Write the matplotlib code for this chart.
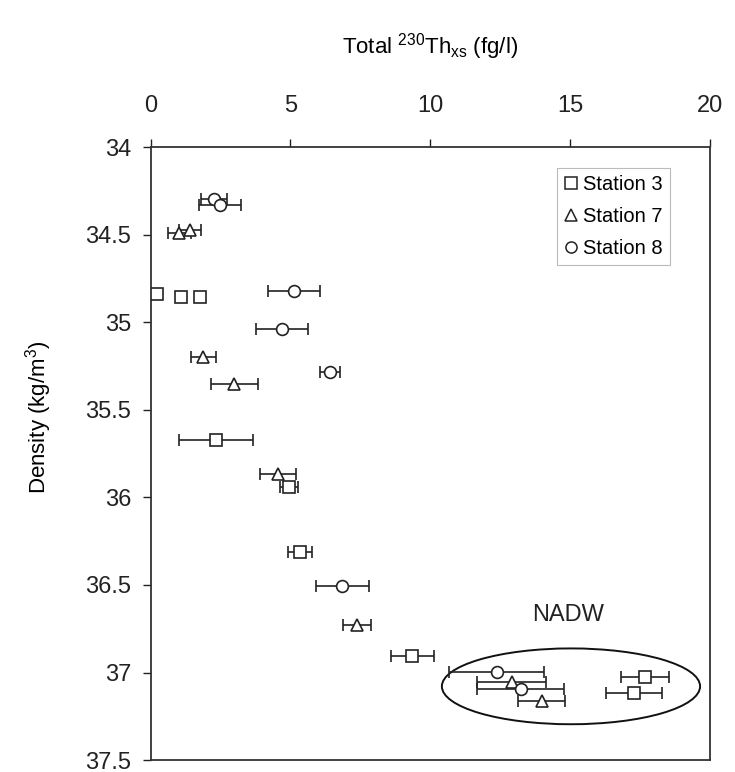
import matplotlib
matplotlib.use("Agg")
import matplotlib.pyplot as plt
from matplotlib.patches import Ellipse
from matplotlib.lines import Line2D

plt.rcParams["font.family"] = ["Liberation Sans", "DejaVu Sans"]
plt.rcParams["mathtext.fontset"] = "custom"
plt.rcParams["mathtext.rm"] = "Liberation Sans"

# Station 3 (squares)
st3_x = [0.22, 1.08, 1.77, 2.34, 4.95, 5.34, 9.36, 17.68, 17.28]
st3_y = [34.84, 34.857, 34.857, 35.672, 35.939, 36.313, 36.903, 37.024, 37.115]
st3_err = [0.0, 0.0, 0.15, 1.31, 0.33, 0.43, 0.77, 0.85, 0.99]

# Station 7 (triangles)
st7_x = [1.03, 1.41, 1.89, 3.0, 4.55, 7.39, 12.91, 13.98]
st7_y = [34.491, 34.472, 35.196, 35.352, 35.868, 36.729, 37.053, 37.161]
st7_err = [0.42, 0.38, 0.46, 0.83, 0.64, 0.5, 1.23, 0.83]

# Station 8 (circles)
st8_x = [2.27, 2.48, 5.14, 4.71, 6.42, 6.86, 12.38, 13.23]
st8_y = [34.297, 34.33, 34.819, 35.04, 35.282, 36.504, 36.996, 37.096]
st8_err = [0.45, 0.76, 0.93, 0.93, 0.35, 0.96, 1.7, 1.55]

fig = plt.figure(figsize=(7.35, 7.72), dpi=100)
ax = fig.add_axes([0.2048, 0.0155, 0.7612, 0.7937])

series = [
    (st3_x, st3_y, st3_err, "s", "Station 3"),
    (st7_x, st7_y, st7_err, "^", "Station 7"),
    (st8_x, st8_y, st8_err, "o", "Station 8"),
]
for xs, ys, errs, mk, name in series:
    ax.errorbar(xs, ys, xerr=errs, fmt=mk, ms=8.5, mfc="white", mec="#222222",
                mew=1.2, ecolor="#222222", elinewidth=1.2, capsize=4,
                capthick=1.2, zorder=3)

# NADW ellipse
ax.add_patch(Ellipse((15.03, 37.079), 9.23, 0.433, fill=False,
                     edgecolor="#111111", lw=1.4, zorder=2))
ax.text(14.93, 36.672, "NADW", fontsize=17, ha="center", va="center", color="#222222")

ax.set_xlim(0, 20)
ax.set_ylim(37.5, 34)
ax.set_xticks([0, 5, 10, 15, 20])
ax.set_yticks([34, 34.5, 35, 35.5, 36, 36.5, 37, 37.5])
ax.set_yticklabels(["34", "34.5", "35", "35.5", "36", "36.5", "37", "37.5"])
ax.xaxis.tick_top()
ax.xaxis.set_label_position("top")
ax.tick_params(axis="both", direction="out", length=6, width=1, labelsize=17,
               colors="#222222")
ax.tick_params(axis="x", pad=16)
ax.tick_params(axis="y", pad=8)
for sp in ax.spines.values():
    sp.set_color("#333333")
    sp.set_linewidth(1.3)

ax.set_xlabel(r"Total $^{230}$Th$_{\mathrm{xs}}$ (fg/l)", fontsize=16, labelpad=30)
ax.set_ylabel(r"Density (kg/m$^{3}$)", fontsize=16)
ax.yaxis.set_label_coords(-0.173, 0.56)

handles = [Line2D([], [], ls="none", marker=m, ms=8, mfc="white", mec="#222222", mew=1.1)
           for m in ["s", "^", "o"]]
leg = ax.legend(handles, ["Station 3", "Station 7", "Station 8"], loc="upper right",
                bbox_to_anchor=(0.9285, 0.966), fontsize=14.5, frameon=True, fancybox=False,
                handlelength=0.7, handletextpad=0.25, borderpad=0.35, labelspacing=0.65,
                borderaxespad=0)
leg.get_frame().set_edgecolor("#aaaaaa")
leg.get_frame().set_linewidth(0.8)

fig.savefig("out.png", dpi=100)
